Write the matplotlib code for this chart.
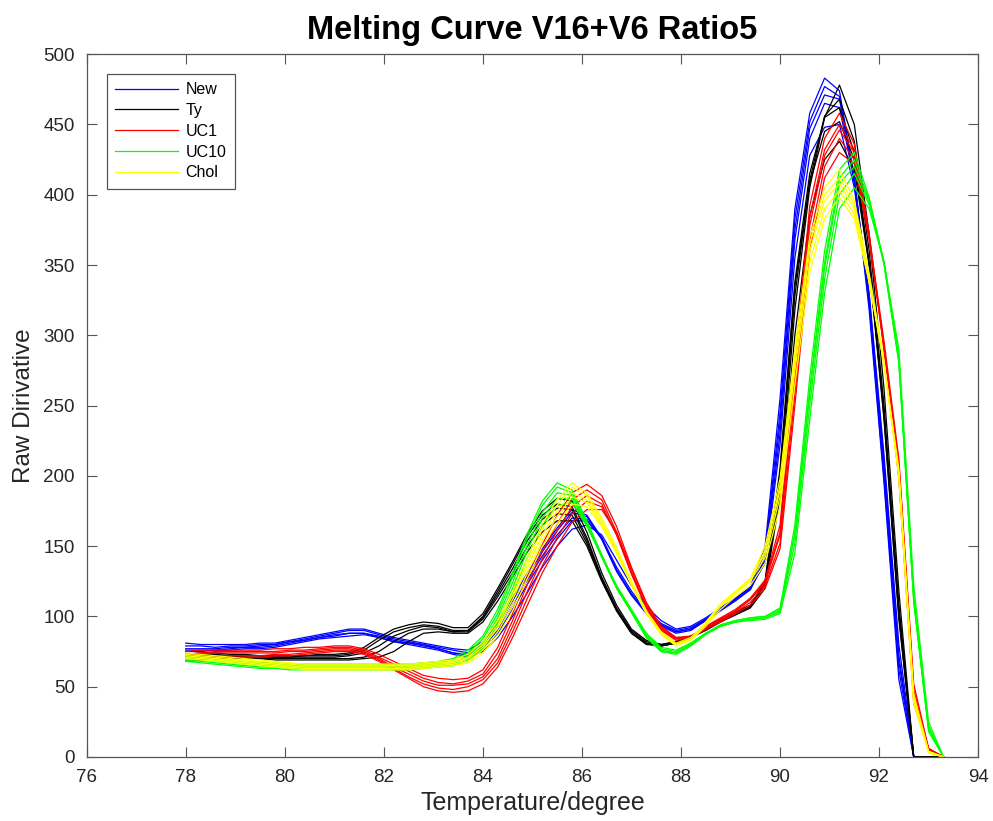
import numpy as np
import matplotlib
matplotlib.use("Agg")
import matplotlib.pyplot as plt

# Temperature grid (degrees)
temps = [78.0, 78.3, 78.6, 78.9, 79.2, 79.5, 79.8, 80.1, 80.4, 80.7,
         81.0, 81.3, 81.6, 81.9, 82.2, 82.5, 82.8, 83.1, 83.4, 83.7,
         84.0, 84.3, 84.6, 84.9, 85.2, 85.5, 85.8, 86.1, 86.4, 86.7,
         87.0, 87.3, 87.6, 87.9, 88.2, 88.5, 88.8, 89.1, 89.4, 89.7,
         90.0, 90.3, 90.6, 90.9, 91.2, 91.5, 91.8, 92.1, 92.4, 92.7,
         93.0, 93.3]

new_curves = [
    [81,80,80,80,80,81,81,83,85,87,89,91,91,88,85,83,81,79,77,76,82,95,113,131,148,163,176,172,156,133,116,103,94,89,91,98,106,113,121,150,255,390,458,483,474,412,318,195,55,0,0,0],
    [79,79,78,79,79,80,80,82,84,86,88,90,90,87,84,82,80,78,76,74,80,93,111,129,146,161,174,171,155,132,115,102,93,88,90,97,105,112,120,146,245,383,452,477,470,408,322,198,62,0,0,0],
    [77,77,77,78,78,79,80,82,83,85,87,88,88,86,83,81,80,77,74,73,78,90,108,126,143,158,170,169,155,133,116,103,94,89,91,97,104,111,119,142,238,375,447,471,468,412,325,205,68,0,0,0],
    [76,76,76,77,78,78,79,81,83,85,86,88,88,85,82,81,79,77,74,72,77,88,105,123,140,155,168,168,156,135,118,104,95,90,92,98,105,112,119,140,230,368,440,465,462,410,328,210,72,0,0,0],
    [75,75,76,76,77,77,78,80,82,84,85,86,87,85,82,80,78,76,73,71,75,85,100,117,135,150,162,165,158,140,122,107,97,91,93,99,106,113,120,138,222,355,428,448,450,405,330,215,80,0,0,0],
]

ty_curves = [
    [73,74,74,73,73,72,72,72,72,73,73,74,78,85,91,94,96,95,92,92,102,120,139,159,175,184,182,160,131,108,91,83,80,82,86,92,98,103,108,122,190,318,405,455,478,450,372,262,118,0,0,0],
    [72,73,73,72,72,72,71,71,72,72,72,73,76,83,89,92,94,93,90,90,100,118,137,157,172,180,178,156,128,106,90,82,80,82,86,92,98,103,108,124,198,328,410,456,468,438,360,250,108,0,0,0],
    [71,72,72,72,71,71,71,71,71,71,71,72,74,79,86,90,93,92,89,90,99,116,134,154,169,177,176,154,127,105,89,81,79,81,85,91,97,102,107,126,205,338,415,455,462,430,352,242,100,0,0,0],
    [70,71,71,71,71,70,70,70,70,70,70,70,71,75,82,88,91,91,89,89,98,114,131,150,165,173,172,152,126,104,88,80,79,81,85,91,97,102,107,124,202,335,408,445,452,425,350,240,98,0,0,0],
    [68,69,70,70,70,70,69,69,69,69,69,69,70,71,75,82,88,89,88,88,96,111,128,146,160,168,168,150,125,104,88,81,79,81,85,90,96,101,106,120,185,300,385,425,438,418,350,245,105,0,0,0],
]

uc1_curves = [
    [75,76,76,76,76,76,77,77,78,78,79,79,77,73,68,63,58,56,55,56,62,78,102,128,151,172,188,194,186,164,135,110,93,85,86,93,99,105,113,126,165,280,392,440,458,436,372,290,198,38,5,0],
    [73,74,75,75,75,75,75,76,76,77,78,78,76,71,66,61,56,53,52,54,59,74,97,123,146,166,183,190,183,160,132,107,91,84,85,92,98,104,112,125,160,272,384,432,450,432,370,290,200,42,6,0],
    [72,73,74,74,74,74,74,75,75,76,77,77,75,70,64,59,54,51,51,52,57,70,93,118,141,161,178,186,180,158,130,106,90,83,85,92,98,104,112,124,158,268,378,428,446,430,372,292,205,45,6,0],
    [70,71,72,72,72,72,73,73,74,75,76,76,74,69,63,57,52,49,48,50,55,67,89,113,136,156,173,182,178,158,131,107,91,84,85,91,97,103,110,122,152,258,368,420,440,425,368,292,208,48,5,0],
    [68,69,70,71,71,71,72,72,73,74,75,75,73,68,62,56,50,47,46,47,52,64,85,108,131,150,167,176,176,160,134,109,92,85,85,91,96,102,108,120,148,250,360,412,430,422,370,296,212,52,6,0],
]

uc10_curves = [
    [72,71,70,69,68,67,67,66,66,66,66,66,66,66,66,66,67,68,70,76,86,105,131,159,182,195,190,168,144,121,103,85,75,74,80,88,94,97,99,100,106,165,270,360,418,430,398,352,282,112,20,0],
    [71,70,69,68,67,66,66,65,65,65,65,65,65,65,65,65,66,67,69,74,84,102,128,156,179,192,188,166,143,120,103,85,75,73,79,87,93,96,98,99,104,160,262,352,412,425,396,350,280,110,18,0],
    [70,69,68,67,66,65,65,64,64,64,64,64,64,64,64,64,65,66,67,72,81,99,124,151,174,188,186,165,142,120,103,86,76,74,80,88,94,97,99,100,105,158,258,348,408,420,395,352,282,112,20,0],
    [69,68,67,66,65,64,64,63,63,63,63,63,63,63,63,63,64,65,66,71,79,96,120,147,170,184,184,165,143,121,104,87,77,75,81,88,93,96,98,99,103,152,250,340,400,415,393,352,285,115,22,0],
    [68,67,66,65,64,63,63,62,62,62,62,62,62,62,62,62,63,64,65,69,77,93,116,142,165,179,181,164,143,122,105,88,78,76,81,88,93,96,97,98,102,145,240,330,390,405,390,352,290,122,25,0],
]

chol_curves = [
    [74,73,72,71,70,69,68,67,66,66,66,66,66,66,66,66,67,68,69,73,82,97,118,142,166,183,195,188,170,149,125,104,89,81,85,96,109,118,127,150,198,290,370,405,418,396,344,282,200,38,3,0],
    [73,72,71,70,69,68,67,66,65,65,65,65,65,65,65,65,66,67,68,71,80,94,115,138,162,179,192,186,168,147,124,103,88,80,84,95,108,117,126,147,193,285,365,400,412,393,342,281,200,40,3,0],
    [72,71,70,69,68,67,66,65,64,64,64,64,64,64,64,64,65,66,67,70,78,92,112,135,158,175,188,183,166,146,123,102,88,80,84,95,108,117,126,145,190,280,360,396,408,390,340,280,200,40,3,0],
    [71,70,69,68,67,66,65,64,63,63,63,63,63,63,63,63,64,65,66,68,76,89,108,131,154,171,185,181,165,145,122,102,87,79,83,94,107,116,125,142,185,275,352,390,403,386,338,279,202,42,4,0],
    [70,69,68,67,66,65,64,63,62,62,62,62,62,62,62,62,63,64,65,67,74,86,104,127,150,166,180,178,164,145,123,103,88,80,83,93,105,114,122,138,178,265,345,383,398,383,338,280,205,45,4,0],
]

group_names = ["New", "Ty", "UC1", "UC10", "Chol"]
group_colors = ["#0000ff", "#000000", "#ff0000", "#00ff00", "#ffff00"]
groups = [new_curves, ty_curves, uc1_curves, uc10_curves, chol_curves]

x_ticks = [76, 78, 80, 82, 84, 86, 88, 90, 92, 94]
y_ticks = [0, 50, 100, 150, 200, 250, 300, 350, 400, 450, 500]

plt.rcParams['font.family'] = ['Liberation Sans', 'DejaVu Sans']

fig = plt.figure(figsize=(9.93, 8.21), dpi=100)
ax = fig.add_axes([0.0873, 0.078, 0.8977, 0.856])

handles = []
for name, color, curves in zip(group_names, group_colors, groups):
    for i, c in enumerate(curves):
        ln, = ax.plot(temps, c, color=color, lw=0.9, label=name if i == 0 else None)
        if i == 0:
            handles.append(ln)

ax.set_xlim(76, 94)
ax.set_ylim(0, 500)
ax.set_xticks(x_ticks)
ax.set_yticks(y_ticks)
axis_gray = "#262626"
for s in ax.spines.values():
    s.set_color("#555555")
    s.set_linewidth(0.9)
ax.tick_params(direction='in', length=7, width=0.8, colors="#555555",
               labelcolor=axis_gray, labelsize=13.5, top=True, right=True, pad=8.5)

ax.set_xlabel("Temperature/degree", fontsize=18, color=axis_gray, labelpad=4)
ax.set_ylabel("Raw Dirivative", fontsize=17.5, color=axis_gray, labelpad=6)
ax.set_title("Melting Curve V16+V6 Ratio5", fontsize=23.5, fontweight='bold', pad=11)

leg = ax.legend(handles=handles, labels=group_names, loc='upper left',
                bbox_to_anchor=(0.0224, 0.9725), borderaxespad=0,
                fontsize=11.5, handlelength=3.9, labelspacing=0.36,
                fancybox=False, framealpha=1, edgecolor="#555555",
                borderpad=0.55, handletextpad=0.5)
leg.get_frame().set_linewidth(0.9)

fig.savefig("out.png", dpi=100)
